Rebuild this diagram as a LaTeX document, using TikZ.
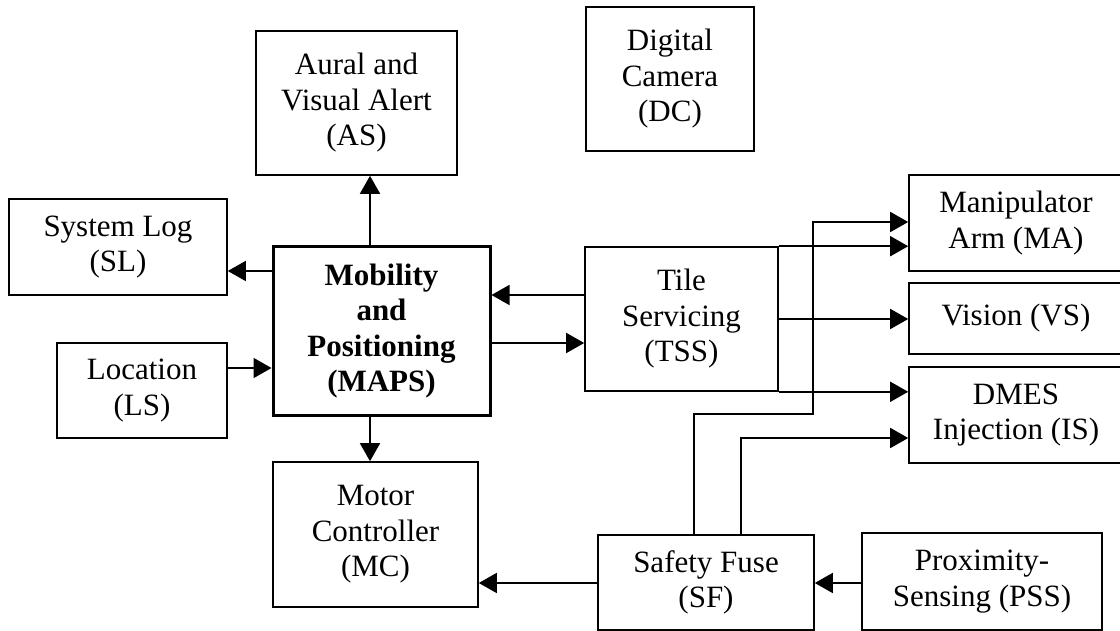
\documentclass[tikz,border=0pt]{standalone}
\usepackage{fontspec}
\setmainfont{Liberation Serif}
\usetikzlibrary{arrows.meta}
\begin{document}
\begin{tikzpicture}[x=1pt,y=-1pt,
  box/.style={draw=black, line width=1.6pt, rectangle, inner sep=0pt, align=center,
              font=\fontsize{31}{35.5}\selectfont},
  mainbox/.style={box, line width=3pt, font=\fontsize{31}{35.5}\selectfont\bfseries},
  arr/.style={draw=black, line width=1.6pt, -{Triangle[length=18pt,width=20pt]}},
  wire/.style={draw=black, line width=1.6pt}]
\useasboundingbox (0,0) rectangle (1120,631);

% blocks
\node[box, minimum width=201pt, minimum height=144pt] (as) at (356.5,103) {Aural and\\Visual Alert\\(AS)};
\node[box, minimum width=168pt, minimum height=144pt] (dc) at (670,79) {Digital\\Camera\\(DC)};
\node[box, minimum width=218pt, minimum height=96pt] (sl) at (118,247) {System Log\\(SL)};
\node[box, minimum width=170pt, minimum height=95pt] (ls) at (142,390.5) {Location\\(LS)};
\node[mainbox, minimum width=217pt, minimum height=168pt] (maps) at (381.5,331) {Mobility\\and\\Positioning\\(MAPS)};
\node[box, minimum width=205pt, minimum height=145pt] (mc) at (375.5,534.5) {Motor\\Controller\\(MC)};
\node[box, minimum width=193pt, minimum height=144pt] (tss) at (681.5,319) {Tile\\Servicing\\(TSS)};
\node[box, minimum width=214pt, minimum height=96pt] (ma) at (1016,223) {Manipulator\\Arm (MA)};
\node[box, minimum width=214pt, minimum height=71pt] (vs) at (1016,318.5) {Vision (VS)};
\node[box, minimum width=214pt, minimum height=96pt] (is) at (1016,415) {DMES\\Injection (IS)};
\node[box, minimum width=216pt, minimum height=95pt] (sf) at (706,582.5) {Safety Fuse\\(SF)};
\node[box, minimum width=240pt, minimum height=97pt] (pss) at (982,581.5) {Proximity-\\Sensing (PSS)};

% routing guides
\coordinate (vx) at (370,0);
\coordinate (ysl) at (0,271);
\coordinate (yls) at (0,368);
\coordinate (yin) at (0,295);
\coordinate (yout) at (0,343);
\coordinate (ysf) at (0,583);
\coordinate (f1) at (694,414);
\coordinate (f2) at (813,414);
\coordinate (f3) at (813,222);
\coordinate (g1) at (741,438);

% MAPS links
\draw[arr] (maps.north -| vx) -- (as.south -| vx);
\draw[arr] (maps.south -| vx) -- (mc.north -| vx);
\draw[arr] (maps.west |- ysl) -- (sl.east |- ysl);
\draw[arr] (ls.east |- yls) -- (maps.west |- yls);
\draw[arr] (tss.west |- yin) -- (maps.east |- yin);
\draw[arr] (maps.east |- yout) -- (tss.west |- yout);

% TSS outputs
\draw[arr] (tss.north east) -- (ma.west |- tss.north east);
\draw[arr] (tss.east) -- (vs.west |- tss.east);
\draw[arr] (tss.south east) -- (is.west |- tss.south east);

% safety fuse lines
\draw[arr] (sf.north -| f1) -- (f1) -- (f2) -- (f3) -- (ma.west |- f3);
\draw[arr] (sf.north -| g1) -- (g1) -- (is.west |- g1);
\draw[arr] (sf.west |- ysf) -- (mc.east |- ysf);
\draw[arr] (pss.west |- ysf) -- (sf.east |- ysf);
\end{tikzpicture}
\end{document}
